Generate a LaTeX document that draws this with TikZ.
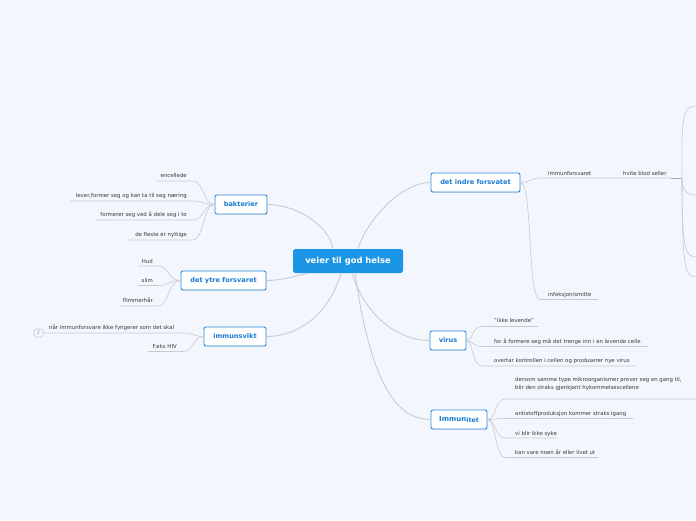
\documentclass[tikz,border=0pt]{standalone}
\usepackage{fontspec}
\setmainfont{DejaVu Sans}
\usetikzlibrary{shadows,calc}
\definecolor{bg}{HTML}{F3F6FD}
\definecolor{mainblue}{HTML}{1B95E6}
\definecolor{boxblue}{HTML}{2A8CE2}
\definecolor{txtblue}{HTML}{1A7AD4}
\definecolor{linegray}{HTML}{C8CAD0}
\definecolor{darkline}{HTML}{A8AAB0}
\definecolor{labelgray}{HTML}{3A3A3A}
\definecolor{badgetext}{HTML}{9A9CA4}
\tikzset{
  rootbox/.style={fill=mainblue, rounded corners=2.5pt, minimum width=110pt, minimum height=24pt, inner sep=0pt, text=white, font=\fontsize{8.4}{9}\selectfont\bfseries},
  topicbox/.style={draw=boxblue, line width=0.9pt, fill=white, rounded corners=2pt, inner sep=0pt, minimum height=19pt, text=txtblue, font=\fontsize{6.6}{7}\selectfont\bfseries, drop shadow={opacity=0.18, shadow xshift=0.4pt, shadow yshift=-0.9pt}},
  lbl/.style={inner sep=0pt, text=labelgray, font=\fontsize{5.4}{7.2}\selectfont},
  conn/.style={draw=linegray, line width=0.85pt},
  sub/.style={draw=linegray, line width=0.6pt},
  badge/.style={draw=linegray, line width=0.6pt, rounded corners=1.5pt, minimum width=9pt, minimum height=8pt, inner sep=0pt, text=badgetext, font=\fontsize{5}{5}\selectfont},
}
\begin{document}
\begin{tikzpicture}[x=1pt,y=-1pt]
\fill[bg] (0,0) rectangle (696,520);
\useasboundingbox (0,0) rectangle (696,520);

% main nodes
\node[rootbox] (root) at (348,261) {veier til god helse};
\node[topicbox, minimum width=52pt] (bakt) at (241,204.5) {bakterier};
\node[topicbox, minimum width=85pt] (ytre) at (223.5,280.5) {det ytre forsvaret};
\node[topicbox, minimum width=62pt] (svikt) at (235,336.5) {immunsvikt};
\node[topicbox, minimum width=89pt] (indre) at (475.5,182.5) {det indre forsvatet};
\node[topicbox, minimum width=36pt] (virus) at (448,340.5) {virus};
\node[topicbox, minimum width=56pt] (immun) at (459,419.5) {{\fontsize{7}{7}\selectfont Immun}\raisebox{-0.5pt}{\fontsize{6.3}{7}\selectfont itet}};

% root connectors
\draw[conn] ([xshift=-15pt]root.north) .. controls (330,228) and (300,205) .. (bakt.east);
\draw[conn] ([xshift=10pt]root.north) .. controls (366,222) and (400,182.5) .. (indre.west);
\draw[conn] ([xshift=-40pt]root.south) .. controls (295,276) and (282,280.5) .. (ytre.east);
\draw[conn] ([xshift=-7pt]root.south) .. controls (330,312) and (300,336.5) .. (svikt.east);
\draw[conn] ([xshift=4pt]root.south) .. controls (366,318) and (400,340.5) .. (virus.west);
\draw[conn] ([xshift=7pt]root.south) .. controls (372,392) and (400,419.5) .. (immun.west);

% bakterier children
\node[lbl, anchor=base east] (b1) at (187,177.5) {encellede};
\node[lbl, anchor=base east] (b2) at (187,197.5) {lever,former seg og kan ta til seg næring};
\node[lbl, anchor=base east] (b3) at (187,216.5) {formerer seg ved å dele seg i to};
\node[lbl, anchor=base east] (b4) at (187,236.5) {de fleste er nyttige};
\coordinate (b1a) at (157,181); \coordinate (b1b) at (193,181);
\coordinate (b2a) at (70,201);  \coordinate (b2b) at (193,201);
\coordinate (b3a) at (95,220);  \coordinate (b3b) at (193,220);
\coordinate (b4a) at (128,240); \coordinate (b4b) at (193,240);
\foreach \c in {b1,b2,b3,b4}{
  \draw[sub] (\c a) -- (\c b) .. controls ($(\c b)+(11,0)$) and (203,204.5) .. (bakt.west);
}

% det ytre forsvaret children
\node[lbl, anchor=base east] (y1) at (153,263) {Hud};
\node[lbl, anchor=base east] (y2) at (153,282) {slim};
\node[lbl, anchor=base east] (y3) at (153,302.5) {flimmerhår};
\coordinate (y1a) at (138,266); \coordinate (y1b) at (158,266);
\coordinate (y2a) at (138,285.5); \coordinate (y2b) at (158,285.5);
\coordinate (y3a) at (119,306); \coordinate (y3b) at (158,306);
\foreach \c in {y1,y2,y3}{
  \draw[sub] (\c a) -- (\c b) .. controls ($(\c b)+(11,0)$) and (168,280.5) .. (ytre.west);
}

% immunsvikt children
\node[lbl, anchor=base west] (s1) at (49,329.5) {når immunforsvare ikke fyngerer som det skal};
\node[lbl, anchor=base east] (s2) at (177,348) {F.eks HIV};
\node[badge] (s1badge) at (38.5,333) {2};
\coordinate (s1a) at (45,333); \coordinate (s1b) at (183,333);
\coordinate (s2a) at (148,351.5); \coordinate (s2b) at (183,351.5);
\draw[sub] (s1badge.east) -- (s1a) -- (s1b) .. controls (193,333) and (194,336.5) .. (svikt.west);
\draw[sub] (s2a) -- (s2b) .. controls (194,351.5) and (193,336.5) .. (svikt.west);

% det indre forsvatet children
\node[lbl, anchor=base west] (i1) at (548,175.5) {immunforsvaret};
\node[lbl, anchor=base west] (i2) at (623,175.5) {hvite blod seller};
\node[lbl, anchor=base west] (i3) at (548,296) {infeksjon/smitte};
\coordinate (i1a) at (540,178); \coordinate (i1b) at (671,178); \coordinate (junc) at (682,178);
\coordinate (i3a) at (540,299.5); \coordinate (i3b) at (598,299.5);
\draw[sub] (indre.east) .. controls (530,182.5) and (531,178) .. (i1a) -- (i1b);
\draw[sub, draw=darkline] (i1b) -- (junc);
\draw[sub] (indre.east) .. controls (533,183) and (527,299.5) .. (i3a) -- (i3b);
\coordinate (e1) at (696,106); \coordinate (e2) at (696,195);
\coordinate (e3) at (696,257); \coordinate (e4) at (696,277);
\draw[sub] (junc) .. controls (681,112) and (684,106) .. (e1);
\draw[sub] (junc) .. controls (682,190) and (686,195) .. (e2);
\draw[sub] (junc) .. controls (682,248) and (685,257) .. (e3);
\draw[sub] (junc) .. controls (682,268) and (685,277) .. (e4);

% virus children
\node[lbl, anchor=base west] (v1) at (494,322.5) {"ikke levende"};
\node[lbl, anchor=base west] (v2) at (494,343) {for å formere seg må det trenge inn i en levende celle};
\node[lbl, anchor=base west] (v3) at (494,362.5) {overtar kontrollen i cellen og produserer nye virus};
\coordinate (v1a) at (482,326.5); \coordinate (v1b) at (538,326.5);
\coordinate (v2a) at (482,346.5); \coordinate (v2b) at (648,346.5);
\coordinate (v3a) at (482,366); \coordinate (v3b) at (637,366);
\foreach \c in {v1,v2,v3}{
  \draw[sub] (virus.east) .. controls (473,340.5) and ($(\c a)+(-10,0)$) .. (\c a) -- (\c b);
}

% Immunitet children
\node[lbl, anchor=base west, align=left] (m1) at (515,389) {dersom samme type mikroorganismer prover seg en gang til,\\blir den straks gjenkjent hykommelsescellene};
\node[lbl, anchor=base west] (m2) at (515,415) {antistoffproduksjon kommer straks igang};
\node[lbl, anchor=base west] (m3) at (515,435) {vi blir ikke syke};
\node[lbl, anchor=base west] (m4) at (515,454) {kan vare noen år eller livet ut};
\coordinate (m1a) at (505,399); \coordinate (m1b) at (696,399);
\coordinate (m2a) at (505,418.5); \coordinate (m2b) at (633,418.5);
\coordinate (m3a) at (505,438); \coordinate (m3b) at (558,438);
\coordinate (m4a) at (505,457.5); \coordinate (m4b) at (598,457.5);
\foreach \c in {m1,m2,m3,m4}{
  \draw[sub] (immun.east) .. controls (496,419.5) and ($(\c a)+(-10,0)$) .. (\c a) -- (\c b);
}
\end{tikzpicture}
\end{document}
